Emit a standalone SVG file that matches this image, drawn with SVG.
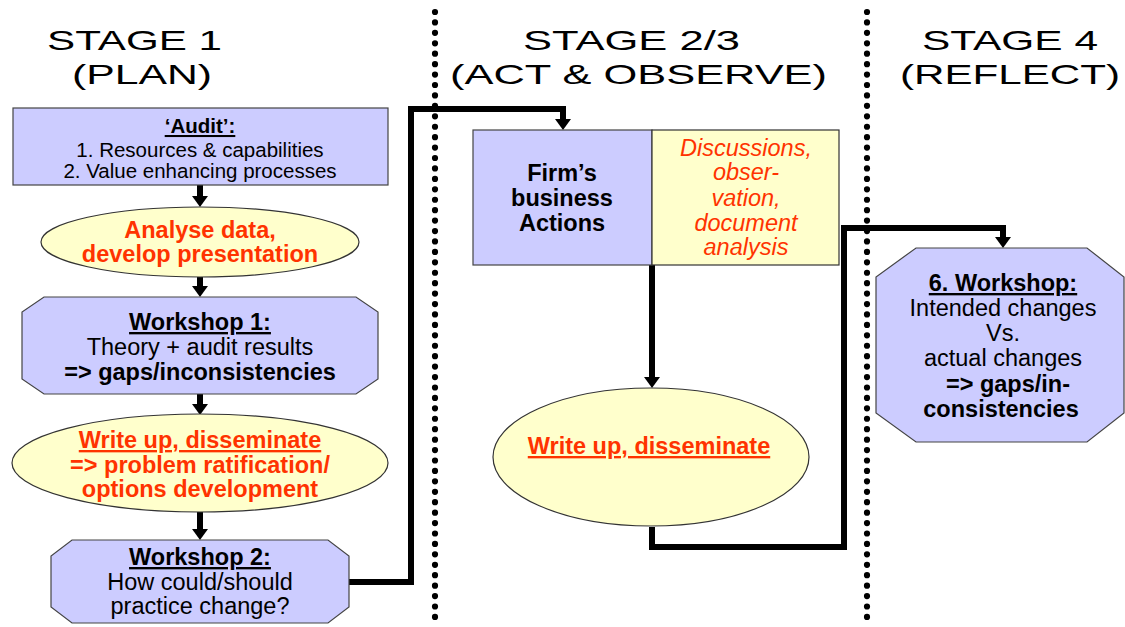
<svg xmlns="http://www.w3.org/2000/svg" width="1125" height="627" viewBox="0 0 1125 627">
  <defs>
    <style>
      .title { font-family: "Liberation Sans", Arial, sans-serif; font-size: 28px; fill: #000; }
      .t { font-family: "Liberation Sans", Arial, sans-serif; font-size: 23.5px; fill: #000; text-anchor: middle; }
      .sm { font-size: 20.5px; }
      .b { font-weight: bold; }
      .u { text-decoration: underline; }
      .red { fill: #FF3300; }
      .it { font-style: italic; }
      .blue { fill: #CCCCFF; stroke: #444; stroke-width: 1.2; }
      .yellow { fill: #FFFFCC; stroke: #333; stroke-width: 1.2; }
      .divider { stroke: #000; stroke-width: 6.2; stroke-linecap: round; stroke-dasharray: 0 10.43; fill: none; }
      .conn { stroke: #000; stroke-width: 6; fill: none; stroke-linejoin: miter; }
    </style>
    <marker id="arrow" viewBox="0 -8 11 16" refX="0" refY="0" markerWidth="11" markerHeight="16" markerUnits="userSpaceOnUse" orient="auto">
      <path d="M0,-8 L11,0 L0,8 Z" fill="#000"/>
    </marker>
  </defs>

  <rect width="1125" height="627" fill="#fff"/>

  <!-- stage dividers -->
  <g id="dividers">
    <line class="divider" x1="435" y1="12" x2="435" y2="627"/>
    <line class="divider" x1="867" y1="12" x2="867" y2="627"/>
  </g>

  <!-- stage headings -->
  <g id="headings">
    <text class="title" x="47" y="50" textLength="175" lengthAdjust="spacingAndGlyphs">STAGE 1</text>
    <text class="title" x="72" y="84" textLength="140" lengthAdjust="spacingAndGlyphs">(PLAN)</text>
    <text class="title" x="523" y="50" textLength="217" lengthAdjust="spacingAndGlyphs">STAGE 2/3</text>
    <text class="title" x="450" y="84" textLength="377" lengthAdjust="spacingAndGlyphs">(ACT &amp; OBSERVE)</text>
    <text class="title" x="922" y="50" textLength="176" lengthAdjust="spacingAndGlyphs">STAGE 4</text>
    <text class="title" x="900" y="84" textLength="220" lengthAdjust="spacingAndGlyphs">(REFLECT)</text>
  </g>

  <!-- connectors -->
  <g id="connectors">
    <line class="conn" x1="200" y1="185" x2="200" y2="196" marker-end="url(#arrow)"/>
    <line class="conn" x1="200" y1="277" x2="200" y2="286" marker-end="url(#arrow)"/>
    <line class="conn" x1="200" y1="394" x2="200" y2="404" marker-end="url(#arrow)"/>
    <line class="conn" x1="200" y1="512" x2="200" y2="529" marker-end="url(#arrow)"/>
    <polyline class="conn" points="349,582 411,582 411,109 563,109 563,119" marker-end="url(#arrow)"/>
    <line class="conn" x1="652" y1="265" x2="652" y2="377" marker-end="url(#arrow)"/>
    <polyline class="conn" points="652,527 652,547 844,547 844,228 1003,228 1003,237" marker-end="url(#arrow)"/>
  </g>

  <!-- Stage 1 nodes -->
  <g id="audit">
    <rect class="blue" x="13" y="108" width="375" height="77"/>
    <text class="t sm b u" x="200" y="133">‘Audit’:</text>
    <text class="t sm" x="200" y="157">1. Resources &amp; capabilities</text>
    <text class="t sm" x="200" y="178">2. Value enhancing processes</text>
  </g>

  <g id="analyse">
    <ellipse class="yellow" cx="200" cy="242" rx="159" ry="35"/>
    <text class="t b red" x="200" y="238">Analyse data,</text>
    <text class="t b red" x="200" y="262">develop presentation</text>
  </g>

  <g id="workshop1">
    <polygon class="blue" points="44,297 356,297 378,312 378,379 356,394 44,394 22,379 22,312"/>
    <text class="t b u" x="200" y="330">Workshop 1:</text>
    <text class="t" x="200" y="355">Theory + audit results</text>
    <text class="t b" x="200" y="380">=&gt; gaps/inconsistencies</text>
  </g>

  <g id="writeup1">
    <ellipse class="yellow" cx="200" cy="463" rx="188" ry="49"/>
    <text class="t b red u" x="200" y="448">Write up, disseminate</text>
    <text class="t b red" x="200" y="473">=&gt; problem ratification/</text>
    <text class="t b red" x="200" y="497">options development</text>
  </g>

  <g id="workshop2">
    <polygon class="blue" points="72,540 328,540 349,556 349,607 328,623 72,623 51,607 51,556"/>
    <text class="t b u" x="200" y="565">Workshop 2:</text>
    <text class="t" x="200" y="590">How could/should</text>
    <text class="t" x="200" y="614">practice change?</text>
  </g>

  <!-- Stage 2/3 nodes -->
  <g id="firm-actions">
    <rect class="blue" x="473" y="130" width="179" height="135"/>
    <text class="t b" x="562" y="181">Firm’s</text>
    <text class="t b" x="562" y="206">business</text>
    <text class="t b" x="562" y="231">Actions</text>
  </g>

  <g id="observation">
    <rect class="yellow" x="652" y="130" width="187" height="135"/>
    <text class="t it red" x="746" y="156">Discussions,</text>
    <text class="t it red" x="746" y="180">obser-</text>
    <text class="t it red" x="746" y="206">vation,</text>
    <text class="t it red" x="746" y="231">document</text>
    <text class="t it red" x="746" y="255">analysis</text>
  </g>

  <g id="writeup2">
    <ellipse class="yellow" cx="651" cy="457" rx="158" ry="69"/>
    <text class="t b red u" x="649" y="454">Write up, disseminate</text>
  </g>

  <!-- Stage 4 node -->
  <g id="workshop6">
    <polygon class="blue" points="916,248 1087,248 1124,277 1124,413 1087,442 916,442 876,413 876,277"/>
    <text class="t b u" x="1003" y="291">6. Workshop:</text>
    <text class="t" x="1003" y="316">Intended changes</text>
    <text class="t" x="1003" y="341">Vs.</text>
    <text class="t" x="1003" y="366">actual changes</text>
    <text class="t b" x="1008" y="392">=&gt; gaps/in-</text>
    <text class="t b" x="1001" y="417">consistencies</text>
  </g>
</svg>
